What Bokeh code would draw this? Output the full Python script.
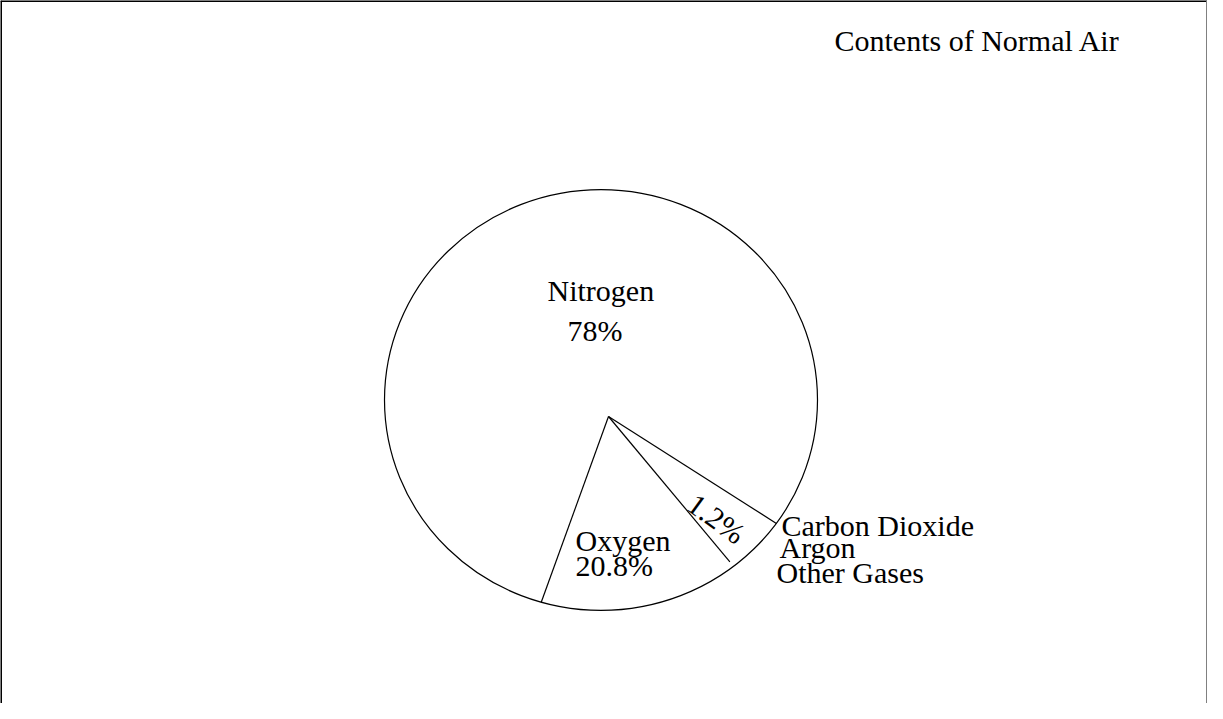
import numpy as np
from bokeh.plotting import figure
from bokeh.models import Range1d, Span, ColumnDataSource
from bokeh.core.properties import value
from bokeh.embed import file_html
from bokeh.resources import INLINE

# ---- data ----
title_text = "Contents of Normal Air"
gases = ["Nitrogen", "Oxygen", "Carbon Dioxide / Argon / Other Gases"]
pct_labels = ["78%", "20.8%", "1.2%"]
drawn_share = [78.5, 16.6, 4.9]          # share of the circle as drawn, in %
other_gas_lines = ["Carbon Dioxide", "Argon", "Other Gases"]

# ---- layout / style ----
W, H = 1207, 703
FONT = value("Liberation Serif")
FS = "30px"
apex = (608.0, 287.0)                      # common vertex of the slices
ell_c = (600.5, 303.5)                     # centre of the outline
ell_a, ell_b = 216.5, 210.5                # semi axes
start_deg = 327.5                          # first boundary angle
reach = [1.0, 1.0, 0.97]                   # how far each boundary line runs

p = figure(width=W, height=H, output_backend="svg", toolbar_location=None,
           x_range=Range1d(0, W), y_range=Range1d(0, H),
           min_border=0, outline_line_color=None)
p.axis.visible = False
p.grid.visible = False
p.background_fill_color = "white"
p.border_fill_color = "white"

# frame
p.add_layout(Span(location=H, dimension="width", line_color="black", line_width=3))
p.add_layout(Span(location=0, dimension="height", line_color="black", line_width=3))
p.add_layout(Span(location=W, dimension="height", line_color="#808080", line_width=3))

# outline of the pie
p.ellipse(x=[ell_c[0]], y=[ell_c[1]], width=[2 * ell_a], height=[2 * ell_b],
          fill_color="white", line_color="black", line_width=1.2)

# slice boundaries from the shares
cum = np.concatenate([[0.0], np.cumsum(drawn_share)[:-1]])
angles = np.deg2rad(start_deg + cum / 100.0 * 360.0)
x0s, y0s, x1s, y1s = [], [], [], []
for ang, r in zip(angles, reach):
    dx, dy = np.cos(ang), np.sin(ang)
    ox, oy = apex[0] - ell_c[0], apex[1] - ell_c[1]
    A = (dx / ell_a) ** 2 + (dy / ell_b) ** 2
    B = 2 * (ox * dx / ell_a ** 2 + oy * dy / ell_b ** 2)
    C = (ox / ell_a) ** 2 + (oy / ell_b) ** 2 - 1
    t = (-B + np.sqrt(B * B - 4 * A * C)) / (2 * A)
    x0s.append(apex[0]); y0s.append(apex[1])
    x1s.append(apex[0] + r * t * dx); y1s.append(apex[1] + r * t * dy)
p.segment(x0=x0s, y0=y0s, x1=x1s, y1=y1s, line_color="black", line_width=1.2)

# title
p.text(x=[834], y=[663], text=[title_text], text_font=FONT, text_font_size=FS,
       text_color="black", text_align="left", text_baseline="alphabetic")

# slice labels
name_src = ColumnDataSource(dict(x=[547, 575], y=[413, 163], t=gases[:2]))
p.text(x="x", y="y", text="t", source=name_src, text_font=FONT, text_font_size=FS,
       text_color="black", text_align="left", text_baseline="alphabetic")
pct_src = ColumnDataSource(dict(x=[567, 575], y=[373, 138], t=pct_labels[:2]))
p.text(x="x", y="y", text="t", source=pct_src, text_font=FONT, text_font_size=FS,
       text_color="black", text_align="left", text_baseline="alphabetic")
p.text(x=[716], y=[185], text=[pct_labels[2]], angle=[np.deg2rad(-36)],
       text_font=FONT, text_font_size=FS, text_color="black",
       text_align="center", text_baseline="middle")

other_src = ColumnDataSource(dict(x=[781, 779, 776], y=[178, 156, 131], t=other_gas_lines))
p.text(x="x", y="y", text="t", source=other_src, text_font=FONT, text_font_size=FS,
       text_color="black", text_align="left", text_baseline="alphabetic")

open("out.html", "w").write(file_html(p, INLINE))
